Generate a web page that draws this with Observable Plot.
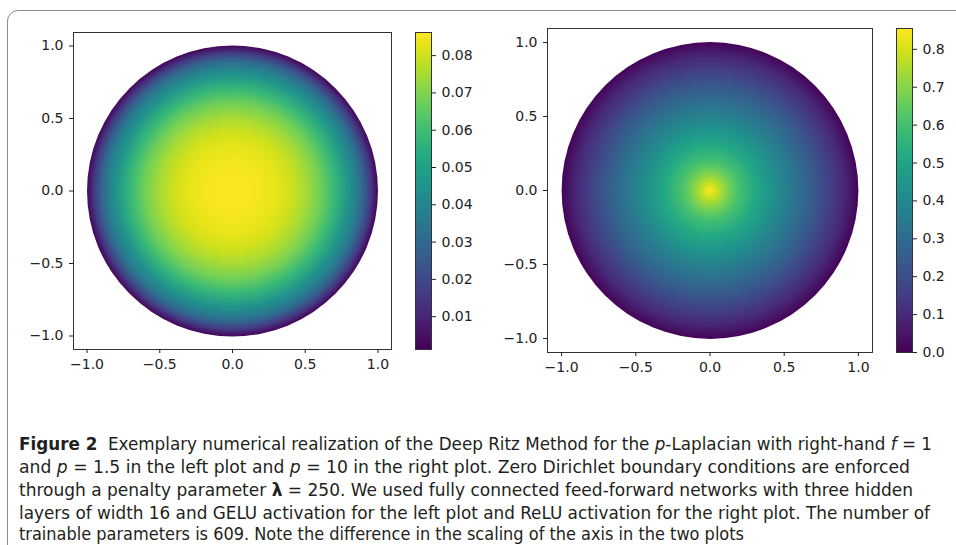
<!DOCTYPE html>
<html><head><meta charset="utf-8">
<script src="https://cdn.jsdelivr.net/npm/d3@7"></script>
<script src="https://cdn.jsdelivr.net/npm/@observablehq/plot@0.6"></script>
<style>
html,body{margin:0;padding:0;background:#fff}
body{width:956px;height:545px;overflow:hidden;position:relative}
#box{position:absolute;left:7px;top:10px;width:1100px;height:700px;border:1.5px solid #8a8a8a;border-top-left-radius:11px;box-sizing:border-box}
.panel{position:absolute}
#caption{position:absolute;left:19px;top:0;font-family:"Liberation Sans Narrow","DejaVu Sans Condensed","DejaVu Sans",sans-serif;font-size:17px;line-height:14px;color:#231f20}
.line{position:absolute;left:0;white-space:nowrap;transform-origin:0 0}
</style></head>
<body>
<div id="box"></div>
<div id="p1" class="panel" style="left:0;top:0"></div>
<div id="c1" class="panel" style="left:400px;top:0"></div>
<div id="p2" class="panel" style="left:480px;top:0"></div>
<div id="c2" class="panel" style="left:880px;top:0"></div>
<div id="caption"></div>
<script>
// ---- data ----
const leftRadii   = [0, 0.1, 0.2, 0.3, 0.4, 0.5, 0.6, 0.7, 0.8, 0.85, 0.9, 0.95, 1.0];
const leftValues  = [0.0855, 0.0853, 0.0847, 0.0830, 0.0800, 0.0752, 0.0680, 0.0580, 0.0450, 0.0380, 0.0285, 0.0160, 0.0025];
const rightRadii  = [0, 0.05, 0.1, 0.15, 0.2, 0.3, 0.4, 0.5, 0.6, 0.7, 0.8, 0.9, 1.0];
const rightValues = [0.855, 0.78, 0.71, 0.65, 0.60, 0.52, 0.45, 0.38, 0.31, 0.24, 0.17, 0.095, 0.01];
const leftRange  = [0.0012, 0.0862];
const rightRange = [0, 0.855];
const axisTicks = [-1.0, -0.5, 0.0, 0.5, 1.0];
const leftBarTicks  = [0.01, 0.02, 0.03, 0.04, 0.05, 0.06, 0.07, 0.08];
const rightBarTicks = [0.0, 0.1, 0.2, 0.3, 0.4, 0.5, 0.6, 0.7, 0.8];
const captionLines = [
  '<b>Figure 2</b>&nbsp; Exemplary numerical realization of the Deep Ritz Method for the <i>p</i>-Laplacian with right-hand <i>f</i> = 1',
  'and <i>p</i> = 1.5 in the left plot and <i>p</i> = 10 in the right plot. Zero Dirichlet boundary conditions are enforced',
  'through a penalty parameter <b>λ</b> = 250. We used fully connected feed-forward networks with three hidden',
  'layers of width 16 and GELU activation for the left plot and ReLU activation for the right plot. The number of',
  'trainable parameters is 609. Note the difference in the scaling of the axis in the two plots'
];
const captionEnds = [932, 910, 913, 930, 744];
const captionTops = [437, 460, 483, 506, 527];

const style = {fontFamily: "DejaVu Sans", fontSize: "14px", color: "#222", background: "transparent", overflow: "visible"};

function heatmap(el, id, radii, values, range, cfg) {
  const {W, H, ml, mr, mt, mb, dom} = cfg;
  const px = (W - ml - mr) / (dom[1] - dom[0]);
  const color = Plot.scale({color: {type: "linear", scheme: "viridis", domain: range}});
  const svg = Plot.plot({
    width: W, height: H, marginLeft: ml, marginRight: mr, marginTop: mt, marginBottom: mb,
    style,
    x: {domain: dom, axis: null},
    y: {domain: dom, axis: null},
    r: {type: "linear", domain: [0, 1], range: [0, px]},
    marks: [
      Plot.dot([{x: 0, y: 0, r: 1}], {x: "x", y: "y", r: "r", fill: `url(#${id})`}),
      Plot.frame({stroke: "#333", strokeWidth: 1}),
      Plot.axisX(axisTicks, {anchor: "bottom", tickFormat: d3.format(".1f"), tickSize: 4, tickPadding: 6, fontSize: 14, label: null}),
      Plot.axisY(axisTicks, {anchor: "left", tickFormat: d3.format(".1f"), tickSize: 4, tickPadding: 6, fontSize: 14, label: null})
    ]
  });
  const defs = d3.select(svg).insert("defs", ":first-child");
  const g = defs.append("radialGradient").attr("id", id).attr("cx", "50%").attr("cy", "50%").attr("r", "50%");
  radii.forEach((r, i) => g.append("stop").attr("offset", r).attr("stop-color", color.apply(values[i])));
  document.getElementById(el).appendChild(svg);
}

function colorbar(el, range, ticks, fmt, cfg) {
  const {W, H, ml, mr, mt, mb} = cfg;
  const svg = Plot.plot({
    width: W, height: H, marginLeft: ml, marginRight: mr, marginTop: mt, marginBottom: mb,
    style,
    x: {domain: [0, 1], axis: null},
    y: {domain: range},
    color: {type: "linear", scheme: "viridis", domain: range},
    marks: [
      Plot.raster({x1: 0, x2: 1, y1: range[0], y2: range[1], width: 1, height: 300, fill: (x, y) => y, imageRendering: "auto"}),
      Plot.frame({stroke: "#333", strokeWidth: 1}),
      Plot.axisY(ticks, {anchor: "right", tickFormat: d3.format(fmt), tickSize: 4, tickPadding: 6, fontSize: 14, label: null})
    ]
  });
  document.getElementById(el).appendChild(svg);
}

heatmap("p1", "gL", leftRadii, leftValues, leftRange, {W: 400, H: 380, ml: 73, mr: 9, mt: 32, mb: 31, dom: [-1.093, 1.093]});
colorbar("c1", leftRange, leftBarTicks, ".2f", {W: 76, H: 380, ml: 15, mr: 45, mt: 32, mb: 31});
heatmap("p2", "gR", rightRadii, rightValues, rightRange, {W: 400, H: 380, ml: 67, mr: 8, mt: 28, mb: 28, dom: [-1.095, 1.095]});
colorbar("c2", rightRange, rightBarTicks, ".1f", {W: 76, H: 380, ml: 16, mr: 44, mt: 28, mb: 28});

const cap = document.getElementById("caption");
captionLines.forEach((html, i) => {
  const d = document.createElement("div");
  d.className = "line";
  d.style.top = captionTops[i] + "px";
  d.innerHTML = html;
  cap.appendChild(d);
  const w = d.getBoundingClientRect().width;
  d.style.transform = `scaleX(${(captionEnds[i] - 19) / w})`;
});
</script>
</body></html>
